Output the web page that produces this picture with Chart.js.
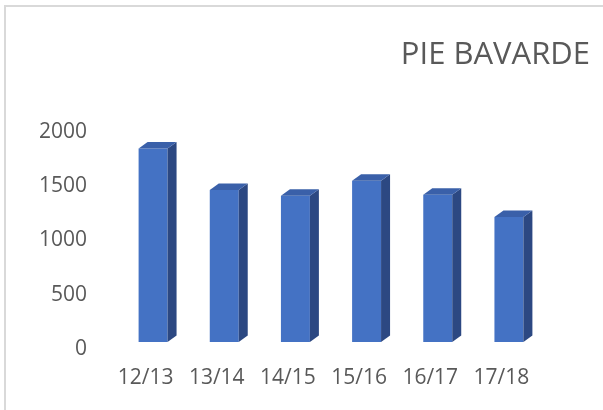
<!DOCTYPE html>
<html>
<head>
<meta charset="utf-8">
<script src="https://cdn.jsdelivr.net/npm/chart.js@4"></script>
<style>
  html, body { margin: 0; padding: 0; background: #fff; }
  #wrap { position: relative; width: 603px; height: 410px; }
  #frame {
    position: absolute; left: 4px; top: 5px; right: 0; bottom: 0;
    border-top: 2px solid #d9d9d9; border-left: 2px solid #d9d9d9;
  }
  #chart { position: absolute; left: 0; top: 0; }
</style>
</head>
<body>
<div id="wrap">
  <div id="frame"></div>
  <canvas id="chart" width="603" height="410"></canvas>
</div>
<script>
const seasons = ['12/13', '13/14', '14/15', '15/16', '16/17', '17/18'];
const counts = [1780, 1400, 1345, 1485, 1355, 1150];
const yTicks = [0, 500, 1000, 1500, 2000];

const FRONT = '#4472c4';
const SIDE = '#2c4882';
const TOP = '#3a60a9';
const TEXT = '#595959';

// fake 3d: shift the front faces and add a side + top face
const DEPTH_X = 9, DEPTH_Y = -6.5;
const SHIFT_X = 7.5, SHIFT_Y = -7;

const bar3d = {
    id: 'bar3d',
    beforeDatasetsDraw(chart) {
        chart.ctx.save();
        chart.ctx.translate(SHIFT_X, SHIFT_Y);
    },
    afterDatasetsDraw(chart) {
        const ctx = chart.ctx;
        chart.getDatasetMeta(0).data.forEach(bar => {
            const l = bar.x - bar.width / 2, r = bar.x + bar.width / 2;
            const t = bar.y, b = bar.base;
            ctx.fillStyle = SIDE;
            ctx.beginPath();
            ctx.moveTo(r, t);
            ctx.lineTo(r + DEPTH_X, t + DEPTH_Y);
            ctx.lineTo(r + DEPTH_X, b + DEPTH_Y);
            ctx.lineTo(r, b);
            ctx.closePath();
            ctx.fill();
            ctx.fillStyle = TOP;
            ctx.beginPath();
            ctx.moveTo(l, t);
            ctx.lineTo(l + DEPTH_X, t + DEPTH_Y);
            ctx.lineTo(r + DEPTH_X, t + DEPTH_Y);
            ctx.lineTo(r, t);
            ctx.closePath();
            ctx.fill();
        });
        ctx.restore();
    }
};

new Chart(document.getElementById('chart'), {
    type: 'bar',
    data: {
        labels: seasons,
        datasets: [{
            data: counts,
            backgroundColor: FRONT,
            borderWidth: 0,
            barPercentage: 0.407,
            categoryPercentage: 1
        }]
    },
    options: {
        responsive: false,
        animation: false,
        layout: { padding: { left: 0, right: 13, top: 0, bottom: 0 } },
        plugins: {
            legend: { display: false },
            tooltip: { enabled: false },
            title: {
                display: true,
                text: 'PIE BAVARDE',
                align: 'end',
                color: TEXT,
                font: { family: 'Open Sans', size: 31, weight: 'normal' },
                padding: { top: 36.4, bottom: 58.1 }
            }
        },
        scales: {
            x: {
                grid: { display: false, drawTicks: false },
                border: { display: false },
                ticks: { color: TEXT, font: { family: 'Open Sans', size: 21 }, padding: 16 },
                afterFit(s) { s.height = 61; }
            },
            y: {
                min: 0,
                max: 2000,
                grid: { display: false, drawTicks: false },
                border: { display: false },
                afterBuildTicks(s) { s.ticks = yTicks.map(v => ({ value: v })); },
                ticks: {
                    color: TEXT,
                    font: { family: 'Open Sans', size: 21 },
                    padding: 23,
                    callback: v => String(v)
                },
                afterFit(s) { s.width = 110; }
            },
            spare: {
                type: 'linear',
                position: 'right',
                grid: { display: false, drawTicks: false },
                border: { display: false },
                ticks: { display: false },
                afterFit(s) { s.width = 53; }
            }
        }
    },
    plugins: [bar3d]
});
</script>
</body>
</html>
